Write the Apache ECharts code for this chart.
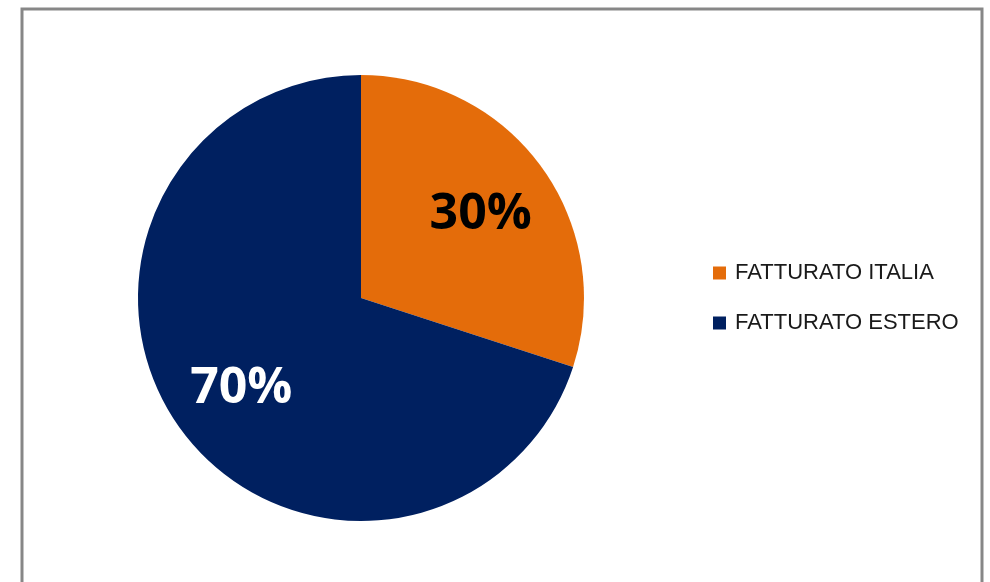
<!DOCTYPE html>
<html>
<head>
<meta charset="utf-8">
<script src="https://cdn.jsdelivr.net/npm/echarts@6/dist/echarts.min.js"></script>
<style>
  html, body { margin: 0; padding: 0; background: #fff; }
  #chart { width: 990px; height: 582px; }
</style>
</head>
<body>
<div id="chart"></div>
<script>
const categories = ['FATTURATO ITALIA', 'FATTURATO ESTERO']
const values = [30, 70]
const colors = ['#E46C0A', '#002060']
const labelColors = ['#000000', '#ffffff']

const chart = echarts.init(document.getElementById('chart'))

const sliceData = categories.map((name, i) => ({
  name: name,
  value: values[i],
  itemStyle: { color: colors[i] }
}))

// same slices again, invisible, only used to place the percentage labels further out
const labelData = categories.map((name, i) => ({
  name: name,
  value: values[i],
  itemStyle: { color: 'rgba(0,0,0,0)' },
  label: { color: labelColors[i] }
}))

chart.setOption({
  animation: false,
  graphic: [{
    type: 'rect',
    shape: { x: 22, y: 9, width: 960, height: 620 },
    style: { fill: 'none', stroke: '#878787', lineWidth: 3 },
    z: -1
  }],
  legend: {
    orient: 'vertical',
    left: 708,
    top: 257,
    itemWidth: 13,
    itemHeight: 13,
    itemGap: 28,
    icon: 'rect',
    data: categories,
    textStyle: {
      fontFamily: 'Liberation Sans',
      fontSize: 22,
      color: '#1a1a1a',
      padding: [0, 0, 0, 4]
    }
  },
  series: [
    {
      name: 'fatturato',
      type: 'pie',
      center: [361, 298],
      radius: [0, 223],
      startAngle: 90,
      clockwise: true,
      silent: true,
      label: { show: false },
      labelLine: { show: false },
      data: sliceData
    },
    {
      name: 'etichette',
      type: 'pie',
      center: [361, 298],
      radius: [0, 290],
      startAngle: 90,
      clockwise: true,
      silent: true,
      legendHoverLink: false,
      label: {
        show: true,
        position: 'inside',
        formatter: '{c}%',
        fontFamily: 'Open Sans',
        fontWeight: 'bold',
        fontSize: 50,
        offset: [0, 4]
      },
      labelLine: { show: false },
      data: labelData
    }
  ]
})
</script>
</body>
</html>
